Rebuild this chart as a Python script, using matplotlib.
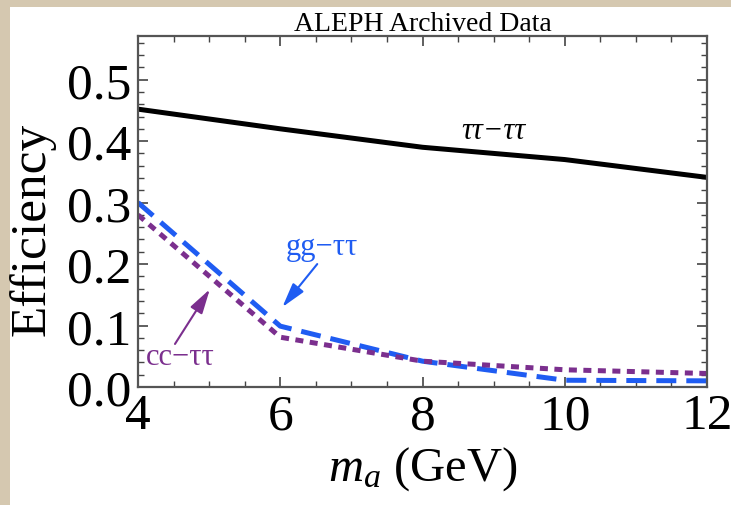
import matplotlib
matplotlib.use("Agg")
import matplotlib.pyplot as plt
from matplotlib.patches import Rectangle
from matplotlib.ticker import MultipleLocator

# data
mass = [4, 6, 8, 10, 12]
eff_tautau = [0.452, 0.42, 0.39, 0.37, 0.341]
eff_gg = [0.300, 0.099, 0.042, 0.011, 0.010]
eff_cc = [0.280, 0.081, 0.042, 0.028, 0.022]

x_ticks = [4, 6, 8, 10, 12]
y_ticks = [0.0, 0.1, 0.2, 0.3, 0.4, 0.5]

blue = "#1f5cf2"
purple = "#7b2f8e"

plt.rcParams['font.family'] = ['Liberation Serif', 'DejaVu Serif']
plt.rcParams['mathtext.fontset'] = 'custom'
plt.rcParams['mathtext.it'] = 'Liberation Serif:italic'
plt.rcParams['mathtext.rm'] = 'Liberation Serif'

fig = plt.figure(figsize=(7.31, 5.06), dpi=100)
fig.patch.set_facecolor("#d5c8b0")
fig.patches.append(Rectangle((10 / 731, 0), 1, (506 - 8) / 506, transform=fig.transFigure,
                             facecolor="white", edgecolor="none", zorder=-10))

ax = fig.add_axes([138 / 731, (506 - 388) / 506, (707 - 138) / 731, (388 - 37) / 506])
ax.set_zorder(5)

ax.plot(mass, eff_tautau, color="black", lw=3.6, solid_capstyle="butt")
ax.plot(mass, eff_gg, color=blue, lw=3.6, dashes=(4, 2.0))
ax.plot(mass, eff_cc, color=purple, lw=3.6, dashes=(1.6, 1.3))

ax.set_xlim(4, 12)
ax.set_ylim(0, 0.571)
ax.set_xticks(x_ticks)
ax.set_yticks(y_ticks)
ax.set_yticklabels([f"{v:.1f}" for v in y_ticks])
ax.xaxis.set_minor_locator(MultipleLocator(0.5))
ax.yaxis.set_minor_locator(MultipleLocator(0.02))
ax.tick_params(which="both", direction="in", top=True, right=True, colors="#444444",
               labelcolor="black", labelsize=37)
ax.tick_params(which="major", length=7, width=1.2)
ax.tick_params(which="minor", length=4, width=1.0)
ax.tick_params(axis="y", pad=5)
ax.tick_params(axis="x", pad=4)
for s in ax.spines.values():
    s.set_color("#555555")
    s.set_linewidth(1.6)

ax.set_title("ALEPH Archived Data", fontsize=20, pad=2)
ax.set_xlabel(r"$m_a$ (GeV)", fontsize=35, labelpad=4)
ax.set_ylabel("Efficiency", fontsize=37)
ax.yaxis.set_label_coords(-0.145, 0.453)

# curve labels with their arrows
arrow = "-|>,head_length=1.0,head_width=0.28"
ax.text(8.99, 0.418, "ττ−ττ", fontsize=22, ha="center", va="center", style="italic")
ax.text(6.59, 0.229, "gg−ττ", color=blue, fontsize=22, ha="center", va="center")
ax.annotate("", xy=(6.03, 0.13), xytext=(6.52, 0.200),
            arrowprops=dict(arrowstyle=arrow, color=blue, lw=1.5, mutation_scale=15,
                            shrinkA=0, shrinkB=0))
ax.text(4.59, 0.049, "cc−ττ", color=purple, fontsize=22, ha="center", va="center")
ax.annotate("", xy=(5.01, 0.159), xytext=(4.52, 0.07),
            arrowprops=dict(arrowstyle=arrow, color=purple, lw=1.5, mutation_scale=15,
                            shrinkA=0, shrinkB=0))

fig.savefig("out.png", dpi=100, facecolor=fig.get_facecolor())
